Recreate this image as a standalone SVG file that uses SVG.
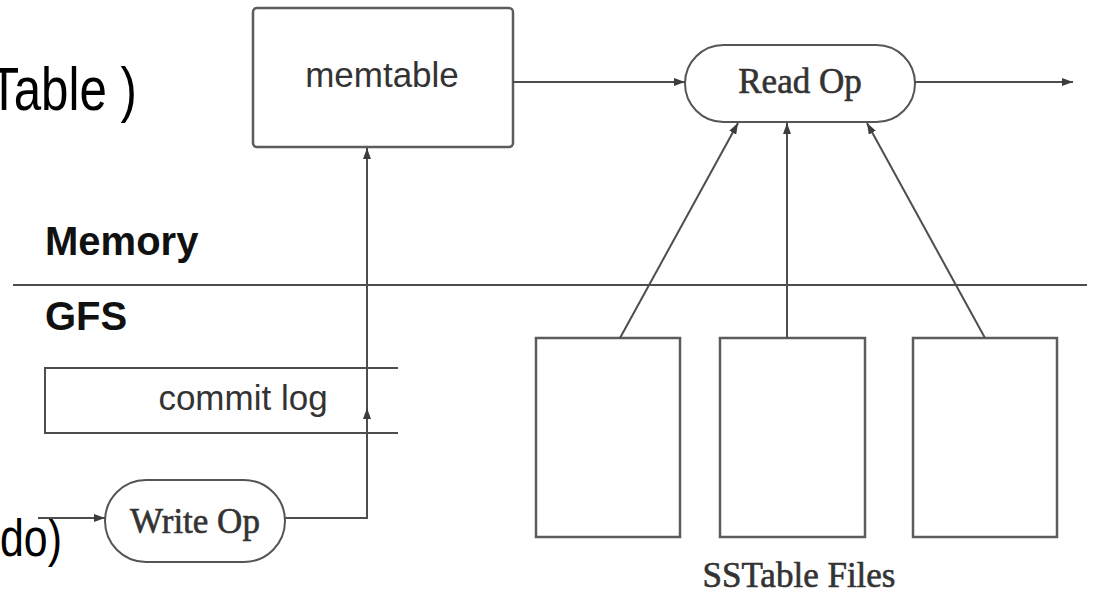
<svg xmlns="http://www.w3.org/2000/svg" width="1094" height="594" viewBox="0 0 1094 594">
  <style>
    .sans { font-family: "Liberation Sans", Arial, sans-serif; }
    .serif { font-family: "Liberation Serif", "Times New Roman", serif; }
    .lbl { font-size: 35px; fill: #333; }
    .serif.lbl { stroke: #333; stroke-width: 0.6; }
    .zone { font-size: 40px; font-weight: bold; fill: #111; }
    .big { fill: #000; }
    .edge { fill: none; stroke: #4d4d4d; stroke-width: 2; }
    .box { fill: #fff; stroke: #5c5c5c; stroke-width: 2.5; }
    .pill { fill: #fff; stroke: #555; stroke-width: 2; }
  </style>
  <defs>
    <marker id="arrow" markerUnits="userSpaceOnUse" markerWidth="11" markerHeight="8" refX="11" refY="4" orient="auto">
      <path d="M0,0 L11,4 L0,8 z" fill="#3d3d3d"/>
    </marker>
  </defs>

  <rect width="1094" height="594" fill="#fff"/>

  <!-- captions running in from the left edge -->
  <text class="sans big" x="-11" y="110" font-size="62" textLength="148" lengthAdjust="spacingAndGlyphs">Table )</text>
  <text class="sans big" x="0" y="556" font-size="51" textLength="62" lengthAdjust="spacingAndGlyphs">do)</text>

  <!-- memory / GFS boundary -->
  <g id="boundary">
    <line x1="13" y1="285" x2="1087" y2="285" stroke="#4d4d4d" stroke-width="2"/>
    <text class="sans zone" x="45" y="255">Memory</text>
    <text class="sans zone" x="45" y="330">GFS</text>
  </g>

  <g id="memtable">
    <rect class="box" x="253" y="8" width="260" height="139" rx="4"/>
    <text class="sans lbl" x="382" y="87" text-anchor="middle">memtable</text>
  </g>

  <g id="read-op">
    <rect class="pill" x="685" y="45" width="230" height="77" rx="38.5"/>
    <text class="serif lbl" x="800" y="93" text-anchor="middle">Read Op</text>
  </g>

  <g id="commit-log">
    <path class="edge" d="M398,368 H45 V433 H398" stroke-width="2.5"/>
    <text class="sans lbl" x="243" y="410" text-anchor="middle">commit log</text>
  </g>

  <g id="write-op">
    <rect class="pill" x="105" y="480" width="180" height="82" rx="41"/>
    <text class="serif lbl" x="195" y="533" text-anchor="middle">Write Op</text>
  </g>

  <g id="sstable-1">
    <rect class="box" x="536" y="338" width="144" height="199"/>
  </g>
  <g id="sstable-2">
    <rect class="box" x="720" y="338" width="145" height="199"/>
  </g>
  <g id="sstable-3">
    <rect class="box" x="913" y="338" width="144" height="199"/>
  </g>
  <g id="sstable-caption">
    <text class="serif lbl" x="799" y="587" text-anchor="middle">SSTable Files</text>
  </g>

  <g id="connectors">
    <line class="edge" x1="38" y1="518" x2="105" y2="518" marker-end="url(#arrow)"/>
    <path class="edge" d="M285,518 H367 V408" marker-end="url(#arrow)"/>
    <path class="edge" d="M367,408 V148" marker-end="url(#arrow)"/>
    <line class="edge" x1="513" y1="82" x2="685" y2="82" marker-end="url(#arrow)"/>
    <line class="edge" x1="915" y1="82" x2="1073" y2="82" marker-end="url(#arrow)"/>
    <line class="edge" x1="620" y1="338" x2="738" y2="123" marker-end="url(#arrow)"/>
    <line class="edge" x1="787" y1="338" x2="787" y2="123" marker-end="url(#arrow)"/>
    <line class="edge" x1="985" y1="338" x2="867" y2="123" marker-end="url(#arrow)"/>
  </g>
</svg>
